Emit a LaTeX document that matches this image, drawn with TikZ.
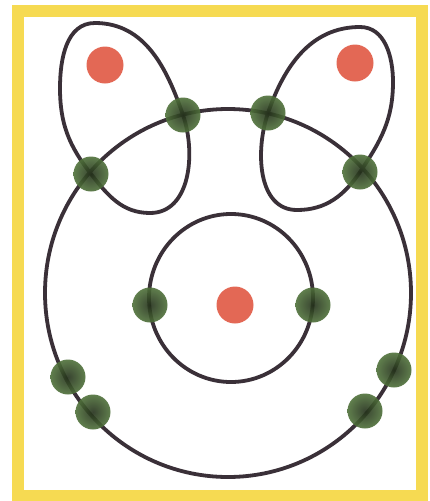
\documentclass[tikz,border=0pt]{standalone}
\usetikzlibrary{calc}
\definecolor{frameY}{HTML}{F6DA52}
\definecolor{wireC}{HTML}{3A3038}
\definecolor{greenIn}{HTML}{23301A}
\definecolor{greenOut}{HTML}{4F713A}
\definecolor{redC}{HTML}{E2604C}
\tikzset{
  wire/.style={draw=wireC, line width=3.8pt},
  gnode/.style={circle, minimum size=35pt, inner sep=0pt, shading=radial, inner color=greenIn, outer color=greenOut, opacity=0.9},
  rnode/.style={circle, minimum size=37pt, inner sep=0pt, fill=redC, opacity=0.95},
}
\begin{document}
\begin{tikzpicture}[x=1pt,y=-1pt]
\useasboundingbox (0,0) rectangle (430,501);
\fill[white] (0,0) rectangle (430,501);
\fill[frameY] (12,5) rectangle (428,501);
\fill[white] (24,17) rectangle (416,490);

% big circle and inner circle
\coordinate (bigC) at (228,293);
\coordinate (innC) at (231,298);
\draw[wire] (bigC) circle[x radius=183, y radius=184];
\draw[wire] (innC) circle[x radius=82, y radius=84];

% green nodes positions
\coordinate (p1) at (183,115);
\coordinate (p2) at (268,113);
\coordinate (p3) at (91,174);
\coordinate (p4) at (360,172);

% ears (angles are visual: 90 = up)
\coordinate (lt) at (95,23);
\coordinate (lb) at (150,213);
\coordinate (ll) at (60,88);
\draw[wire] (lt) to[out=0,in=109] (p1) to[out=289,in=0] (lb)
  to[out=180,in=308] (p3) to[out=128,in=270] (ll) to[out=90,in=180] cycle;
\coordinate (rt) at (360,27);
\coordinate (rb) at (297,210);
\coordinate (rr) at (393,82);
\draw[wire] (rt) to[out=180,in=71] (p2) to[out=251,in=180] (rb)
  to[out=0,in=236] (p4) to[out=56,in=270] (rr) to[out=90,in=0] cycle;

% red nodes
\node[rnode] (r1) at (105,65) {};
\node[rnode] (r2) at (355,63) {};
\node[rnode] (r3) at (235,305) {};

% green nodes
\node[gnode] (g1) at (p1) {};
\node[gnode] (g2) at (p2) {};
\node[gnode] (g3) at (p3) {};
\node[gnode] (g4) at (p4) {};
\node[gnode] (g5) at (150,305) {};
\node[gnode] (g6) at (313,305) {};
\node[gnode] (g7) at (68,377) {};
\node[gnode] (g8) at (93,412) {};
\node[gnode] (g9) at (394,370) {};
\node[gnode] (g10) at (365,411) {};
\end{tikzpicture}
\end{document}
